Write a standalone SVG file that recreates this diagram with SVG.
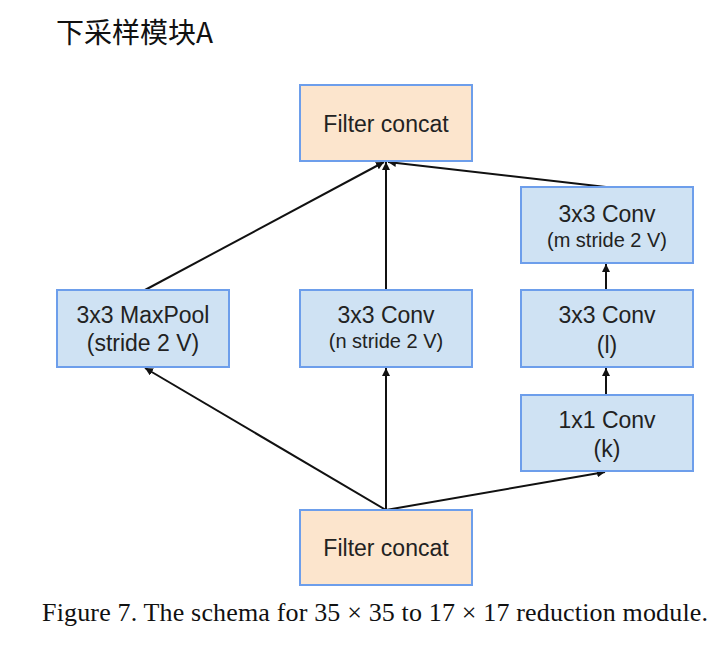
<svg xmlns="http://www.w3.org/2000/svg" width="727" height="672" viewBox="0 0 727 672">
<style>
.blue{fill:#cfe2f3;stroke:#6d9eeb;stroke-width:2}
.orange{fill:#fce5cd;stroke:#6d9eeb;stroke-width:2}
.t{font-family:"Liberation Sans",Arial,sans-serif;font-size:23px;fill:#222;text-anchor:middle}
.s{font-size:20px}
.e{stroke:#111;stroke-width:2;fill:none;marker-end:url(#ah)}
.cap{font-family:"Liberation Serif","Times New Roman",serif;font-size:26px;fill:#111}
.title{font-family:"Noto Sans CJK SC","Noto Sans",sans-serif;font-size:28px;fill:#111}
</style>
<defs>
<marker id="ah" viewBox="0 0 10 10" refX="10" refY="5" markerWidth="4" markerHeight="4" orient="auto" markerUnits="strokeWidth">
<path d="M0,0 L10,5 L0,10 z" fill="#111"/>
</marker>
</defs>
<rect width="727" height="672" fill="#fff"/>
<text class="title" x="56" y="43">下采样模块A</text>
<g id="connectors">
<line class="e" x1="145" y1="290" x2="384" y2="162"/>
<line class="e" x1="386" y1="290" x2="386" y2="162"/>
<line class="e" x1="606" y1="187" x2="388" y2="162"/>
<line class="e" x1="386" y1="510" x2="145" y2="368"/>
<line class="e" x1="386" y1="510" x2="386" y2="368"/>
<line class="e" x1="386" y1="510" x2="605" y2="472"/>
<line class="e" x1="606" y1="395" x2="606" y2="368"/>
<line class="e" x1="606" y1="290" x2="606" y2="264"/>
</g>
<g id="concat_top">
<rect class="orange" x="300" y="85" width="172" height="76"/>
<text class="t" x="386" y="132">Filter concat</text>
</g>
<g id="maxpool">
<rect class="blue" x="57" y="290" width="172" height="77"/>
<text class="t" x="143" y="323">3x3 MaxPool</text>
<text class="t" x="143" y="351">(stride 2 V)</text>
</g>
<g id="conv_n">
<rect class="blue" x="300" y="290" width="172" height="77"/>
<text class="t" x="386" y="323">3x3 Conv</text>
<text class="t s" x="386" y="348">(n stride 2 V)</text>
</g>
<g id="conv_m">
<rect class="blue" x="521" y="187" width="172" height="76"/>
<text class="t" x="607" y="222">3x3 Conv</text>
<text class="t s" x="607" y="247">(m stride 2 V)</text>
</g>
<g id="conv_l">
<rect class="blue" x="521" y="290" width="172" height="77"/>
<text class="t" x="607" y="323">3x3 Conv</text>
<text class="t" x="607" y="353">(l)</text>
</g>
<g id="conv_k">
<rect class="blue" x="521" y="395" width="172" height="76"/>
<text class="t" x="607" y="428">1x1 Conv</text>
<text class="t" x="607" y="457">(k)</text>
</g>
<g id="concat_bottom">
<rect class="orange" x="300" y="510" width="172" height="75"/>
<text class="t" x="386" y="556">Filter concat</text>
</g>
<text class="cap" x="42" y="621" textLength="666" lengthAdjust="spacing">Figure 7. The schema for 35 × 35 to 17 × 17 reduction module.</text>
</svg>
